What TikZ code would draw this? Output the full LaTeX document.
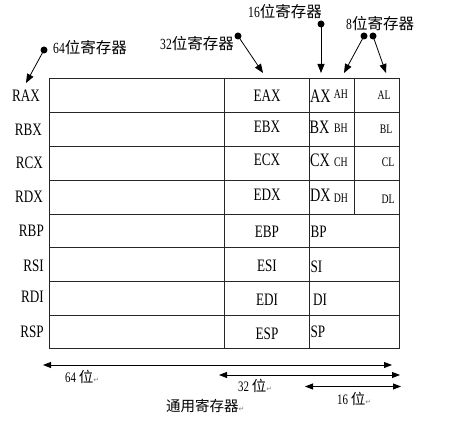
\documentclass[tikz,border=0pt]{standalone}
\usepackage{fontspec}
\setmainfont{Liberation Serif}
\newfontfamily\regf[FakeStretch=0.75]{Liberation Serif}
\newfontfamily\cjk{Noto Sans CJK SC}
\newfontfamily\symf{DejaVu Sans}
\usetikzlibrary{arrows.meta}
\newcommand{\parmk}{{\symf\fontsize{7}{7}\selectfont\color{gray}↵}}
\tikzset{
  reg/.style={font=\regf\fontsize{17.5}{17.5}\selectfont, inner sep=0pt},
  big/.style={font=\regf\fontsize{19}{19}\selectfont, inner sep=0pt},
  small/.style={font=\regf\fontsize{13}{13}\selectfont, inner sep=0pt},
  lab/.style={font=\regf\fontsize{15.5}{15.5}\selectfont, inner sep=0pt},
  blab/.style={font=\regf\fontsize{14.5}{14.5}\selectfont, inner sep=0pt},
  dot/.style={circle, fill=black, inner sep=0pt, minimum size=7pt},
  ann/.style={-{Triangle[length=9pt,width=7pt]}, line width=0.8pt},
  dim/.style={{Triangle[length=8pt,width=6pt]}-{Triangle[length=8pt,width=6pt]}, line width=0.9pt},
  grid/.style={line width=0.9pt, draw=black!85}
}
\begin{document}
\begin{tikzpicture}[x=1pt,y=-1pt]
\useasboundingbox (0,0) rectangle (467,425);
% table
\draw[grid] (49,78) rectangle (399,348);
\foreach \y in {112,146,180,214,247.5,281,315}
  \draw[grid] (49,\y) -- (399,\y);
\draw[grid] (224,78) -- (224,348);
\draw[grid] (309,78) -- (309,348);
\draw[grid] (354,78) -- (354,214);
% R labels
\node[reg, anchor=east] (rax) at (40,96) {RAX};
\node[reg, anchor=east] (rbx) at (42,130) {RBX};
\node[reg, anchor=east] (rcx) at (43,163) {RCX};
\node[reg, anchor=east] (rdx) at (43,197) {RDX};
\node[reg, anchor=east] (rbp) at (44,231) {RBP};
\node[reg, anchor=east] (rsi) at (44,265.5) {RSI};
\node[reg, anchor=east] (rdi) at (44,297) {RDI};
\node[reg, anchor=east] (rsp) at (44,332) {RSP};
% E labels
\node[reg] (eax) at (267,96) {EAX};
\node[reg] (ebx) at (267,127) {EBX};
\node[reg] (ecx) at (267,160) {ECX};
\node[reg] (edx) at (267,195) {EDX};
\node[reg] (ebp) at (267,231.5) {EBP};
\node[reg] (esi) at (267,266) {ESI};
\node[reg] (edi) at (267,299.5) {EDI};
\node[reg] (esp) at (267,334) {ESP};
% 16-bit labels
\node[big, anchor=west] (ax) at (310,96.5) {AX};
\node[big, anchor=west] (bx) at (309.5,127.5) {BX};
\node[big, anchor=west] (cx) at (310,160.5) {CX};
\node[big, anchor=west] (dx) at (310,195) {DX};
\node[reg, anchor=west] (bp) at (310.5,231.5) {BP};
\node[reg, anchor=west] (si) at (310.5,266.5) {SI};
\node[reg, anchor=west] (di) at (313,299.5) {DI};
\node[reg, anchor=west] (sp) at (310.5,332) {SP};
% 8-bit labels
\node[small] (ah) at (341,94.5) {AH};
\node[small] (bh) at (341,128) {BH};
\node[small] (ch) at (341,162) {CH};
\node[small] (dh) at (341,198.5) {DH};
\node[small] (al) at (384,95) {AL};
\node[small] (bl) at (386,129) {BL};
\node[small] (cl) at (388,162.5) {CL};
\node[small] (dl) at (388,199) {DL};
% top annotations
\node[lab, anchor=west] (l64) at (53,47.5) {64{\cjk 位寄存器}};
\node[lab, anchor=west] (l32) at (160,44) {32{\cjk 位寄存器}};
\node[lab, anchor=west] (l16) at (248,12) {16{\cjk 位寄存器}};
\node[lab, anchor=west] (l8) at (346,24) {8{\cjk 位寄存器}};
\node[dot] (d64) at (44,50) {};
\node[dot] (d32) at (238,36) {};
\node[dot] (d16) at (321,24) {};
\node[dot] (d8a) at (364,36) {};
\node[dot] (d8b) at (373,36) {};
\coordinate (t64) at (26,83);
\coordinate (t32) at (263,73);
\coordinate (t16) at (321,73);
\coordinate (t8a) at (344,73);
\coordinate (t8b) at (386,73);
\draw[ann] (d64.center) -- (t64);
\draw[ann] (d32.center) -- (t32);
\draw[ann] (d16.center) -- (t16);
\draw[ann] (d8a.center) -- (t8a);
\draw[ann] (d8b.center) -- (t8b);
% bottom dimensions
\coordinate (a64) at (43,365);
\coordinate (b64) at (392,365);
\coordinate (a32) at (219,375);
\coordinate (b32) at (400,375);
\coordinate (a16) at (305,386.5);
\coordinate (b16) at (401,386.5);
\draw[dim] (a64) -- (b64);
\draw[dim] (a32) -- (b32);
\draw[dim] (a16) -- (b16);
\node[blab, anchor=west] (w64) at (65,376.5) {64 {\cjk 位}\parmk};
\node[blab, anchor=west] (w32) at (238,386) {32 {\cjk 位}\parmk};
\node[blab, anchor=west] (w16) at (337,399) {16 {\cjk 位}\parmk};
\node[inner sep=0pt, anchor=west, font=\cjk\fontsize{14.5}{14.5}\selectfont] (gen) at (166,406) {通用寄存器\parmk};
\end{tikzpicture}
\end{document}
